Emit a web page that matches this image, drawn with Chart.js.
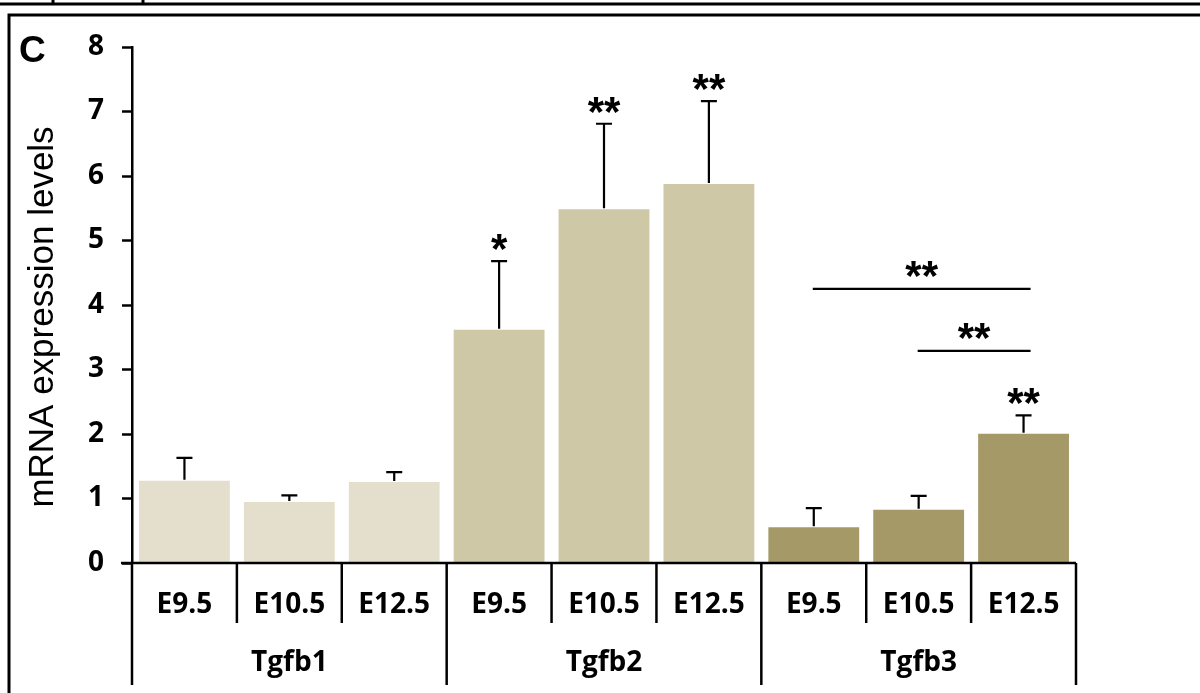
<!DOCTYPE html>
<html>
<head>
<meta charset="utf-8">
<script src="https://cdn.jsdelivr.net/npm/chart.js@4.4.0/dist/chart.umd.min.js"></script>
<style>
  html, body { margin: 0; padding: 0; background: #fff; }
  #wrap { width: 1200px; height: 693px; position: relative; }
</style>
</head>
<body>
<div id="wrap"><canvas id="chart" width="1200" height="693"></canvas></div>
<script>
// data
const genes = ['Tgfb1', 'Tgfb2', 'Tgfb3'];
const stages = ['E9.5', 'E10.5', 'E12.5'];
const means = [1.29, 0.96, 1.27, 3.63, 5.50, 5.89, 0.57, 0.84, 2.02];
const errors = [0.34, 0.09, 0.14, 1.05, 1.31, 1.27, 0.28, 0.20, 0.27];
const stars = ['', '', '', '*', '**', '**', '', '', '**'];
const geneColors = ['#e4dfcd', '#cec8a6', '#a69968'];
const yTicks = [0, 1, 2, 3, 4, 5, 6, 7, 8];
// significance brackets: [from bar index, to bar index, y value, label]
const brackets = [
    [6, 8, 4.25, '**'],
    [7, 8, 3.29, '**']
];

const labels = [];
const colors = [];
genes.forEach((g, gi) => {
    stages.forEach(s => {
        labels.push(s);
        colors.push(geneColors[gi]);
    });
});

const fontFamily = '"Open Sans", Lato, sans-serif';
const tickFont = 'bold 28px ' + fontFamily;

function drawStar(ctx, text, x, cy) {
    ctx.font = 'bold 42px "Liberation Sans", Arial, sans-serif';
    ctx.textAlign = 'center';
    ctx.textBaseline = 'alphabetic';
    const m = ctx.measureText(text);
    const off = (m.actualBoundingBoxAscent - m.actualBoundingBoxDescent) / 2;
    ctx.fillText(text, x, cy + off);
}

const extras = {
    id: 'extras',
    afterDatasetsDraw(chart) {
        const ctx = chart.ctx;
        const x = chart.scales.x;
        const y = chart.scales.y;
        const area = chart.chartArea;
        const step = (area.right - area.left) / labels.length;
        ctx.save();
        ctx.strokeStyle = '#000';
        ctx.fillStyle = '#000';

        // error bars
        ctx.lineWidth = 2.2;
        means.forEach((v, i) => {
            const cx = x.getPixelForValue(i);
            const y0 = y.getPixelForValue(v);
            const y1 = y.getPixelForValue(v + errors[i]);
            ctx.beginPath();
            ctx.moveTo(cx, y0);
            ctx.lineTo(cx, y1);
            ctx.moveTo(cx - 8, y1);
            ctx.lineTo(cx + 8, y1);
            ctx.stroke();
            if (stars[i]) drawStar(ctx, stars[i], cx, y1 - 19);
        });

        // brackets
        brackets.forEach(b => {
            const xa = x.getPixelForValue(b[0]) - 1;
            const xb = x.getPixelForValue(b[1]) + 7;
            const yy = y.getPixelForValue(b[2]);
            ctx.beginPath();
            ctx.moveTo(xa, yy);
            ctx.lineTo(xb, yy);
            ctx.stroke();
            drawStar(ctx, b[3], (xa + xb) / 2, yy - 20);
        });

        // x axis line and category dividers
        ctx.lineWidth = 2.5;
        ctx.beginPath();
        ctx.moveTo(area.left - 11, area.bottom);
        ctx.lineTo(area.right, area.bottom);
        ctx.stroke();
        for (let i = 0; i <= labels.length; i++) {
            const px = area.left + i * step;
            const long = i % 3 === 0;
            ctx.beginPath();
            ctx.moveTo(px, area.bottom);
            ctx.lineTo(px, long ? 685 : 623);
            ctx.stroke();
        }

        // category labels
        ctx.font = tickFont;
        ctx.textAlign = 'center';
        ctx.textBaseline = 'middle';
        labels.forEach((l, i) => {
            ctx.fillText(l, x.getPixelForValue(i), 605);
        });
        genes.forEach((g, gi) => {
            const px = area.left + (gi * 3 + 1.5) * step;
            ctx.fillText(g, px, 663);
        });

        // y title
        ctx.save();
        ctx.translate(43, 317);
        ctx.rotate(-Math.PI / 2);
        ctx.font = '35px "Liberation Sans", Arial, sans-serif';
        ctx.fillText('mRNA expression levels', 0, 0);
        ctx.restore();

        // panel letter
        ctx.font = 'bold 37px "Liberation Sans", Arial, sans-serif';
        ctx.textAlign = 'left';
        ctx.textBaseline = 'alphabetic';
        ctx.fillText('C', 19, 62);

        // frame
        ctx.lineWidth = 3;
        ctx.beginPath();
        ctx.moveTo(0, 4);
        ctx.lineTo(1200, 4);
        ctx.moveTo(53, 0);
        ctx.lineTo(53, 4);
        ctx.moveTo(143, 0);
        ctx.lineTo(143, 4);
        ctx.moveTo(9, 693);
        ctx.lineTo(9, 15);
        ctx.lineTo(1200, 15);
        ctx.stroke();
        ctx.restore();
    }
};

new Chart(document.getElementById('chart'), {
    type: 'bar',
    data: {
        labels: labels,
        datasets: [{
            data: means,
            backgroundColor: colors,
            borderColor: 'rgba(255,255,255,0.6)',
            borderWidth: 1,
            categoryPercentage: 1,
            barPercentage: 0.885
        }]
    },
    options: {
        responsive: false,
        animation: false,
        layout: { padding: { left: 0, right: 124, top: 47, bottom: 130 } },
        plugins: { legend: { display: false }, tooltip: { enabled: false } },
        scales: {
            x: {
                display: false
            },
            y: {
                min: 0,
                max: 8,
                afterFit(scale) { scale.width = 132; },
                afterBuildTicks(scale) { scale.ticks = yTicks.map(v => ({ value: v })); },
                ticks: {
                    color: '#000',
                    font: { family: fontFamily, size: 28, weight: 'bold' },
                    padding: 18
                },
                grid: {
                    display: true,
                    drawOnChartArea: false,
                    drawTicks: true,
                    tickLength: 10,
                    tickWidth: 2.5,
                    tickColor: '#000'
                },
                border: { display: true, color: '#000', width: 2.5 }
            }
        }
    },
    plugins: [extras]
});
</script>
</body>
</html>
